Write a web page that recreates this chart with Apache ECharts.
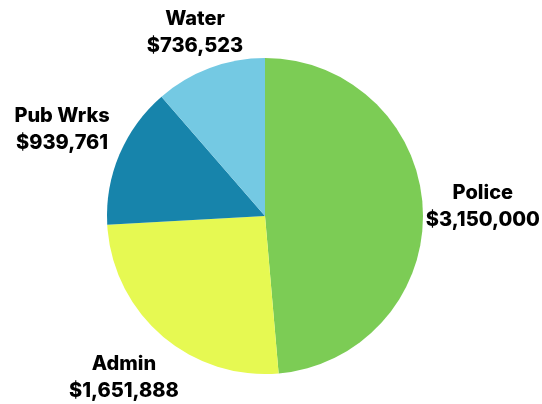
<!DOCTYPE html>
<html>
<head>
<meta charset="utf-8">
<script src="https://cdn.jsdelivr.net/npm/echarts@6/dist/echarts.min.js"></script>
<style>
  html, body { margin: 0; padding: 0; background: #ffffff; }
  #chart { width: 542px; height: 404px; }
</style>
</head>
<body>
<div id="chart"></div>
<script>
const categories = ['Police', 'Admin', 'Pub Wrks', 'Water'];
const values = [3150000, 1651888, 939761, 736523];
const colors = ['#7ccc55', '#e6f952', '#1784ab', '#74c9e3'];
// label nudges (style only), per slice
const labelNudges = [[15, -1], [-8, 8], [-16, -7], [1, 7]];

const chart = echarts.init(document.getElementById('chart'), null, { renderer: 'canvas' });

function money(v) {
  return '$' + v.toString().replace(/\B(?=(\d{3})+(?!\d))/g, ',');
}

chart.setOption({
  animation: false,
  backgroundColor: '#ffffff',
  series: [{
    type: 'pie',
    center: [265, 216],
    radius: 158,
    startAngle: 90,
    clockwise: true,
    avoidLabelOverlap: false,
    data: categories.map((c, i) => ({ name: c, value: values[i], itemStyle: { color: colors[i] } })),
    itemStyle: { borderWidth: 0 },
    label: {
      show: true,
      position: 'outside',
      distanceToLabelLine: 0,
      fontFamily: 'Inter',
      fontWeight: 800,
      fontSize: 20,
      lineHeight: 27,
      color: '#000000',
      formatter: p => p.name + '\n' + money(p.value)
    },
    labelLine: { show: false, length: 45, length2: 0 },
    labelLayout: function (params) {
      const n = labelNudges[params.dataIndex];
      return { dx: n[0], dy: n[1], align: 'center', verticalAlign: 'middle' };
    },
    emphasis: { disabled: true }
  }]
});
</script>
</body>
</html>
